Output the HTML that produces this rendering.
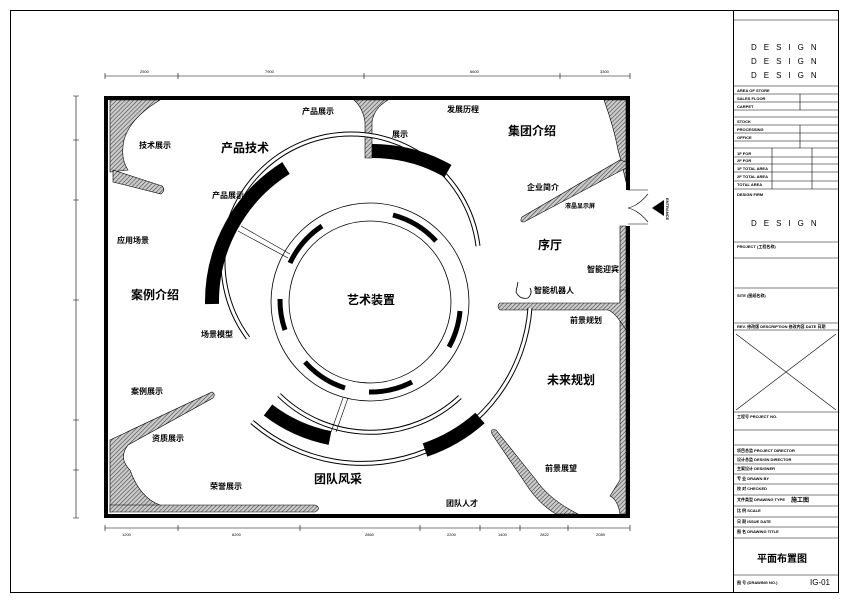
<!DOCTYPE html>
<html><head><meta charset="utf-8"><style>
body{margin:0;background:#fff;}
svg{display:block;font-family:"Liberation Sans","Noto Sans CJK SC",sans-serif;}
.t{font-size:8px;font-weight:bold;}
.T{font-size:12px;font-weight:bold;}
.s{font-size:4px;font-weight:bold;}
.d{font-size:4px;}
</style></head><body>
<svg width="849" height="600" viewBox="0 0 849 600" xmlns="http://www.w3.org/2000/svg">
<defs>
<pattern id="h" width="3" height="3" patternUnits="userSpaceOnUse" patternTransform="rotate(45)">
<rect width="3" height="3" fill="#ccc"/><line x1="0" y1="0" x2="0" y2="3" stroke="#444" stroke-width="1.2"/>
</pattern>
</defs>
<rect width="849" height="600" fill="#fff"/>
<rect x="10.5" y="10.5" width="828" height="582" fill="none" stroke="#000" stroke-width="1"/>
<line x1="733.5" y1="10" x2="733.5" y2="593" stroke="#000"/>
<g stroke="#000" stroke-width="0.6" fill="none">
<line x1="105" y1="76" x2="630" y2="76"/>
<line x1="105" y1="528" x2="630" y2="528"/>
<line x1="76" y1="96" x2="76" y2="518"/>
<path d="M105 73v6M178 73v6M364 73v6M560 73v6M630 73v6M105 525v6M178 525v6M300 525v6M420 525v6M480 525v6M520 525v6M568 525v6M630 525v6M73 96h6M73 140h6M73 200h6M73 300h6M73 420h6M73 470h6M73 518h6"/>
</g>
<g class="d" fill="#000">
<text x="140" y="73">2500</text><text x="265" y="73">7900</text><text x="470" y="73">6600</text><text x="600" y="73">3300</text>
<text x="122" y="536">1200</text><text x="232" y="536">6200</text><text x="365" y="536">2860</text><text x="447" y="536">2200</text><text x="498" y="536">1400</text><text x="540" y="536">2822</text><text x="596" y="536">2089</text>
</g>
<g fill="url(#h)" stroke="#000" stroke-width="0.6">
<path d="M110 100 L160 100 Q130 118 124 140 Q120 158 128 170 L110 172 Z"/>
<path d="M113 170 L162 186 Q166 190 161 194 L113 182 Z"/>
<path d="M354 100 L388 100 Q374 108 372 122 L372 158 L365 158 L365 122 Q363 108 354 100 Z"/>
<path d="M604 100 L626 100 L626 182 Q621 160 618 150 Q614 128 604 100 Z"/>
<path d="M620 160 L626 162 L626 168 L524 222 Q519 222 522 217 Z"/>
<path d="M620 226 L626 226 L626 514 L620 514 Q618 500 610 496 L620 480 Z"/>
<path d="M500 303 L620 303 L620 290 L626 290 L626 330 Q615 312 608 310 L500 310 Q496 306 500 303 Z"/>
<path d="M492 434 Q490 428 496 430 L536 480 Q550 500 578 514 L556 514 Q542 506 530 490 Z"/>
<path d="M110 440 L212 392 Q216 394 213 398 L128 445 Q118 458 130 470 Q140 498 160 505 L110 512 Z"/>
<path d="M110 505 L315 505 Q322 508 315 512 L110 512 Z"/>
</g>
<path d="M104 96 H630 V190 H626 V100 H108 V514 H626 V226 H630 V518 H104 Z" fill="#000"/>
<g fill="none" stroke="#000" stroke-width="0.6">
<path d="M628 190 H648 M628 224 H648 M628 208 Q638 206 648 194 M628 208 Q638 210 648 222"/>
</g>
<polygon points="652,208 664,200 664,216" fill="#000"/>
<text class="s" transform="translate(666,198) rotate(90)">ENTRANCE</text>
<g fill="none" stroke="#000">
<circle cx="370" cy="302" r="81" stroke-width="0.8"/>
<circle cx="370" cy="302" r="99" stroke-width="0.8"/>
</g>
<g fill="none" stroke="#000" stroke-width="5">
<path d="M290 263 A90 90 0 0 1 322 226"/>
<path d="M393 215 A90 90 0 0 1 436 241"/>
<path d="M280 299 A90 90 0 0 0 285 330"/>
<path d="M460 311 A90 90 0 0 1 449 347"/>
<path d="M305 362 A90 90 0 0 0 345 388"/>
<path d="M369 392 A90 90 0 0 0 412 382"/>
</g>
<g fill="none" stroke="#000" stroke-width="5">
<path d="M248 338 A128 128 0 1 1 478 246"/>
<path d="M279 395 A131 131 0 0 0 460 397"/>
<path d="M252 422 A168 168 0 0 0 530 308"/>
</g>
<g fill="none" stroke="#fff" stroke-width="3">
<path d="M248 338 A128 128 0 1 1 478 246"/>
<path d="M279 395 A131 131 0 0 0 460 397"/>
<path d="M252 422 A168 168 0 0 0 530 308"/>
</g>
<g fill="none" stroke="#000" stroke-width="14">
<path d="M212 304 A158 158 0 0 1 286 168"/>
<path d="M372 151 A151 151 0 0 1 448 171"/>
<path d="M268 410 A150 150 0 0 0 330 438"/>
<path d="M425 450 A160 160 0 0 0 480 418"/>
</g>
<g stroke="#000" stroke-width="0.6" fill="none">
<path d="M238 231 L288 258 M241 226 L290 254"/>
<path d="M343 398 L331 432 M348 398 L336 432"/>
</g>
<path d="M518 282 L516 292 Q520 300 528 298 Q533 293 530 288" fill="none" stroke="#000" stroke-width="0.8"/>
<g fill="#000">
<text class="t" x="302" y="114">产品展示</text>
<text class="t" x="447" y="112">发展历程</text>
<text class="t" x="392" y="137">展示</text>
<text class="T" x="508" y="135">集团介绍</text>
<text class="t" x="139" y="148">技术展示</text>
<text class="T" x="221" y="152">产品技术</text>
<text class="t" x="212" y="198">产品展示</text>
<text class="t" x="527" y="190">企业简介</text>
<text class="t" x="565" y="208" style="font-size:6px">液晶显示屏</text>
<text class="t" x="117" y="243">应用场景</text>
<text class="T" x="538" y="249">序厅</text>
<text class="t" x="587" y="272">智能迎宾</text>
<text class="t" x="534" y="293">智能机器人</text>
<text class="T" x="131" y="299">案例介绍</text>
<text class="T" x="347" y="304">艺术装置</text>
<text class="t" x="570" y="323">前景规划</text>
<text class="t" x="201" y="337">场景模型</text>
<text class="T" x="547" y="384">未来规划</text>
<text class="t" x="131" y="394">案例展示</text>
<text class="t" x="152" y="441">资质展示</text>
<text class="t" x="545" y="471">前景展望</text>
<text class="T" x="314" y="483">团队风采</text>
<text class="t" x="210" y="489">荣誉展示</text>
<text class="t" x="446" y="506">团队人才</text>
</g>
<g stroke="#000" stroke-width="0.6" fill="none">
<path d="M733 20H838M733 86H838M733 94H838M733 102H838M733 110H838M733 117H838M733 125H838M733 133H838M733 141H838M733 148H838M733 157H838M733 164H838M733 172H838M733 181H838M733 189H838M733 242H838M733 258H838M733 288H838M733 323H838M733 330H838M733 412H838M733 430H838M733 445H838M733 455H838M733 464H838M733 474H838M733 484H838M733 495H838M733 506H838M733 517H838M733 527H838M733 538H838M733 575H838"/>
<path d="M800 94V110M800 125V148M772 148V189M812 148V189"/>
<path d="M736 334L836 410M836 334L736 410"/>
</g>
<g fill="#000">
<text x="751" y="50" style="font-size:8px;letter-spacing:7px">DESIGN</text>
<text x="751" y="64" style="font-size:8px;letter-spacing:7px">DESIGN</text>
<text x="751" y="78" style="font-size:8px;letter-spacing:7px">DESIGN</text>
<text x="751" y="226" style="font-size:8px;letter-spacing:7px">DESIGN</text>
<text class="s" x="737" y="92">AREA OF STORE</text>
<text class="s" x="737" y="100">SALES FLOOR</text>
<text class="s" x="737" y="108">CARPET</text>
<text class="s" x="737" y="123">STOCK</text>
<text class="s" x="737" y="131">PROCESSING</text>
<text class="s" x="737" y="139">OFFICE</text>
<text class="s" x="737" y="155">1F FOR</text>
<text class="s" x="737" y="162">2F FOR</text>
<text class="s" x="737" y="170">1F TOTAL AREA</text>
<text class="s" x="737" y="178">2F TOTAL AREA</text>
<text class="s" x="737" y="186">TOTAL AREA</text>
<text class="s" x="737" y="196">DESIGN FIRM</text>
<text class="s" x="737" y="248">PROJECT (工程名称)</text>
<text class="s" x="737" y="297">SITE (图纸名称)</text>
<text class="s" x="737" y="328">REV. 修改版    DESCRIPTION  修改内容   DATE 日期</text>
<text class="s" x="737" y="418">工程号 PROJECT NO.</text>
<text class="s" x="737" y="452">项目总监 PROJECT DIRECTOR</text>
<text class="s" x="737" y="461">设计总监 DESIGN DIRECTOR</text>
<text class="s" x="737" y="470">主案设计 DESIGNER</text>
<text class="s" x="737" y="480">专 业 DRAWN BY</text>
<text class="s" x="737" y="490">校 对 CHECKED</text>
<text class="s" x="737" y="501">文件类型 DRAWING TYPE</text>
<text class="t" x="791" y="502" style="font-size:6px">施工图</text>
<text class="s" x="737" y="512">比 例 SCALE</text>
<text class="s" x="737" y="523">日 期 ISSUE DATE</text>
<text class="s" x="737" y="533">图 名 DRAWING TITLE</text>
<text x="757" y="562" style="font-size:10px;font-weight:bold">平面布置图</text>
<text class="s" x="737" y="584">图 号 (DRAWING NO.)</text>
<text x="810" y="585" style="font-size:8px">IG-01</text>
</g>
</svg>
</body></html>
